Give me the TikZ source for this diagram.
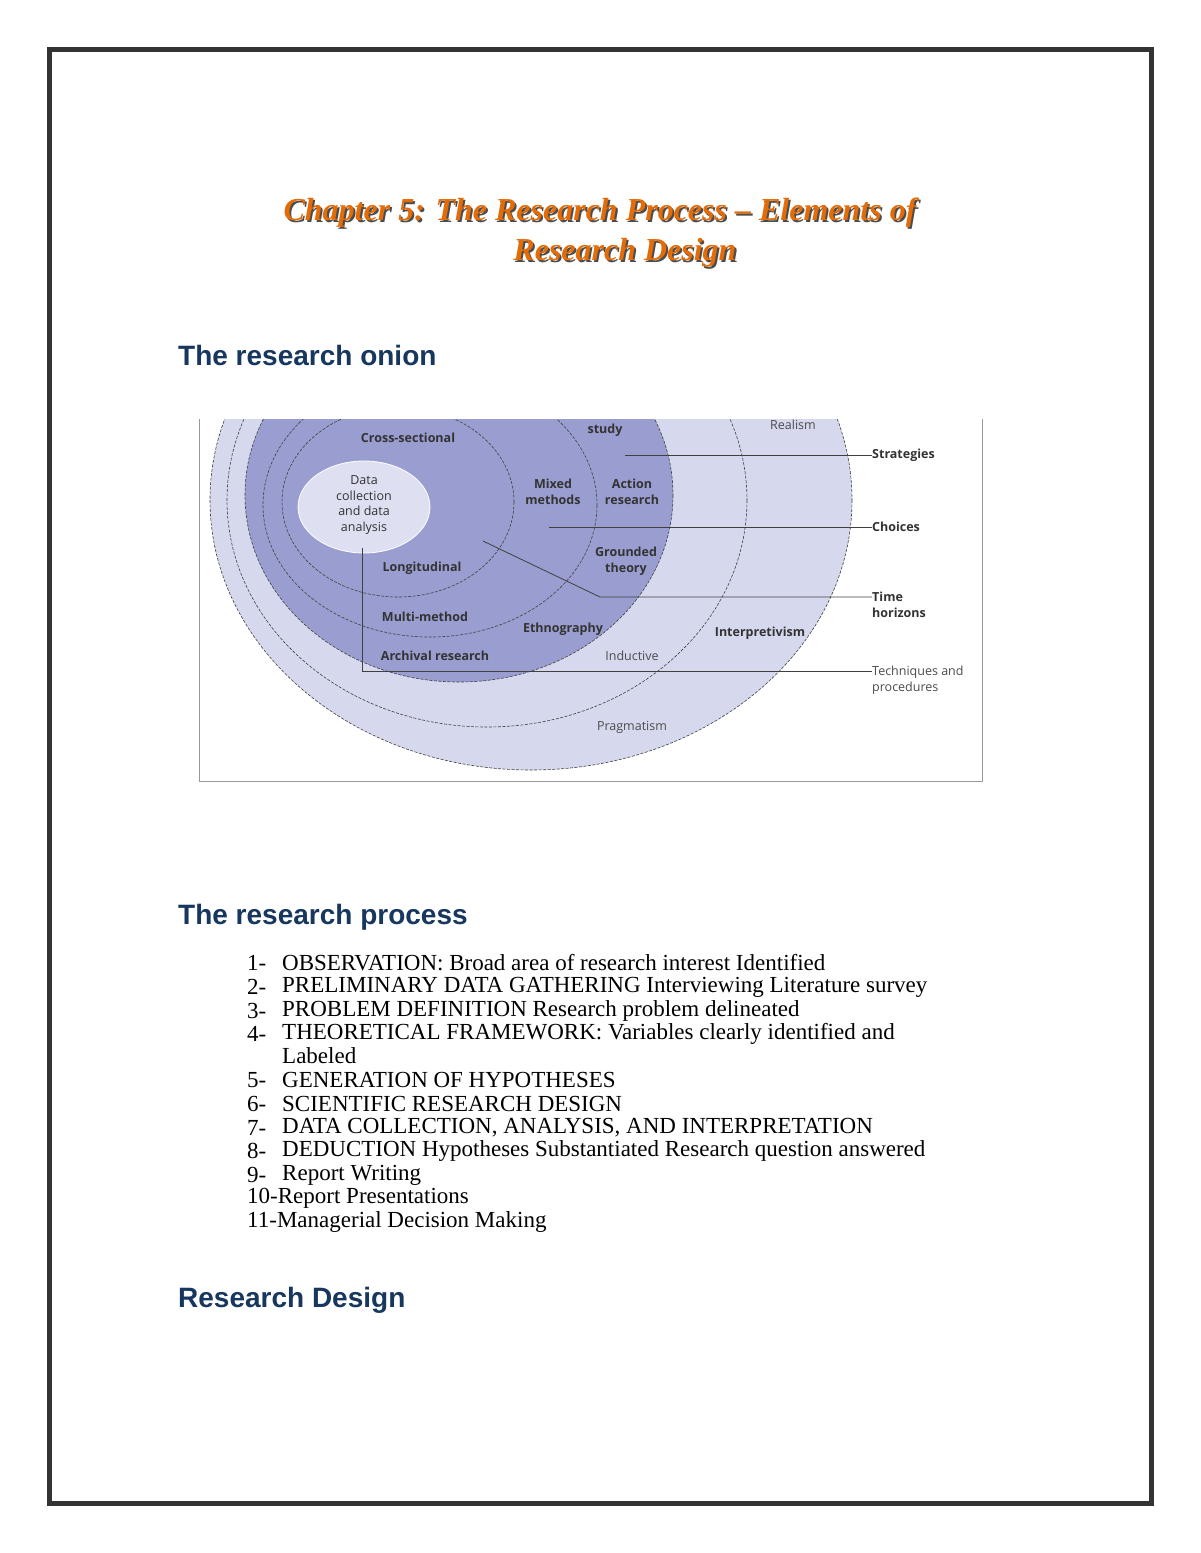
\documentclass[tikz,border=0pt]{standalone}
\usepackage{fontspec}
\setmainfont{Liberation Serif}
\newfontfamily\headfont{Liberation Sans}
\newfontfamily\onionfont{Open Sans}
\usetikzlibrary{calc}
\definecolor{lightv}{HTML}{D6D9EE}
\definecolor{darkv}{HTML}{9A9DCF}
\definecolor{innerv}{HTML}{DEE0F2}
\definecolor{orng}{HTML}{E36C09}
\definecolor{hblue}{HTML}{17375E}
\tikzset{
 ring/.style={draw=black!75, line width=0.6pt, dash pattern=on 3pt off 1.5pt},
 lead/.style={draw=black!75, line width=0.8pt},
 olab/.style={font=\onionfont\bfseries\fontsize{12.5}{15.5}\selectfont, text=black!80, align=center, inner sep=0pt},
 olabr/.style={font=\onionfont\fontsize{12.5}{15.5}\selectfont, text=black!70, align=center, inner sep=0pt},
 rlab/.style={olab, anchor=west, align=left},
 heading/.style={font=\headfont\bfseries\fontsize{28}{32}\selectfont, text=hblue, anchor=west, inner sep=0pt},
 item/.style={font=\fontsize{23}{25}\selectfont, anchor=west, inner sep=0pt},
}
\begin{document}
\begin{tikzpicture}[x=1pt,y=-1pt]
\useasboundingbox (0,0) rectangle (1200,1553);
\fill[white] (0,0) rectangle (1200,1553);
\draw[line width=5pt, draw=black!80] (49,49) rectangle (1151,1503);
% title
\foreach \dx/\c in {1.8/black!70, 0/orng}{
 \node[font=\bfseries\itshape\fontsize{32}{40}\selectfont, text=\c, align=center, inner sep=0pt] (t\dx) at (600+\dx,233+\dx) {Chapter 5: The Research Process -- Elements of\\\hspace*{50pt}Research Design};
}
\node[heading] (h1) at (178,355) {The research onion};
\node[heading] (h2) at (178,917) {The research process};
\node[heading] (h3) at (178,1300) {Research Design};
% onion
\begin{scope}
\clip (199,419) rectangle (982,781);
\fill[lightv] (531,500) ellipse [x radius=321, y radius=270];
\draw[ring] (531,500) ellipse [x radius=321, y radius=270];
\draw[ring] (487,500) ellipse [x radius=260, y radius=227];
\fill[darkv] (459,495) ellipse [x radius=214, y radius=187];
\draw[ring] (459,495) ellipse [x radius=214, y radius=187];
\draw[ring] (430,505) ellipse [x radius=167, y radius=132];
\draw[ring] (398,502) ellipse [x radius=116, y radius=95];
\fill[innerv] (364,507) ellipse [x radius=66, y radius=46];
\draw[white, line width=0.8pt] (364,507) ellipse [x radius=66, y radius=46];
\end{scope}
\draw[black!40, line width=0.8pt] (199,419) -- (199,781) -- (982,781) -- (982,419);
% right labels
\node[rlab] (st) at (872,455) {Strategies};
\node[rlab] (ch) at (872,527) {Choices};
\node[rlab] (th) at (872,605) {Time\\horizons};
\node[olabr, anchor=west, align=left] (tp) at (872,680) {Techniques and\\procedures};
\coordinate (s0) at (625,455);
\coordinate (c0) at (549,527);
\coordinate (t0) at (483,541);
\coordinate (t1) at (600,597);
\coordinate (p0) at (362,548);
\coordinate (p1) at (362,671);
\draw[lead] (s0) -- (st.west |- s0);
\draw[lead] (c0) -- (ch.west |- c0);
\draw[lead] (t0) -- (t1) -- (t1 -| th.west);
\draw[lead] (p0) -- (p1) -- (p1 -| tp.west);
% onion labels
\node[olab] (l1) at (408,438) {Cross-sectional};
\node[olab] (l2) at (605,430) {study};
\node[olabr, text=black!80] (l3) at (364,505) {Data\\collection\\and data\\analysis};
\node[olab] (l4) at (553,492) {Mixed\\methods};
\node[olab] (l5) at (632,492) {Action\\research};
\node[olab] (l6) at (626,561) {Grounded\\theory};
\node[olab] (l7) at (422,568) {Longitudinal};
\node[olab] (l8) at (425,617) {Multi-method};
\node[olab] (l9) at (563,629) {Ethnography};
\node[olab] (l10) at (435,656) {Archival research};
\node[olabr] (l11) at (632,656) {Inductive};
\node[olab] (l12) at (760,633) {Interpretivism};
\node[olabr] (l13) at (793,425) {Realism};
\node[olabr] (l14) at (632,727) {Pragmatism};
% list
\foreach \n/\y/\t in {
1-/963/{OBSERVATION: Broad area of research interest Identified},
2-/987/{PRELIMINARY DATA GATHERING Interviewing Literature survey},
3-/1011/{PROBLEM DEFINITION Research problem delineated},
4-/1034/{THEORETICAL FRAMEWORK: Variables clearly identified and},
/1056/{Labeled},
5-/1080/{GENERATION OF HYPOTHESES},
6-/1104/{SCIENTIFIC RESEARCH DESIGN},
7-/1128/{DATA COLLECTION, ANALYSIS, AND INTERPRETATION},
8-/1151/{DEDUCTION Hypotheses Substantiated Research question answered},
9-/1175/{Report Writing}}{
 \node[item] at (247,\y) {\n};
 \node[item] at (282,\y) {\t};
}
\node[item] (i10) at (247,1198) {10-Report Presentations};
\node[item] (i11) at (247,1222) {11-Managerial Decision Making};
\end{tikzpicture}
\end{document}
